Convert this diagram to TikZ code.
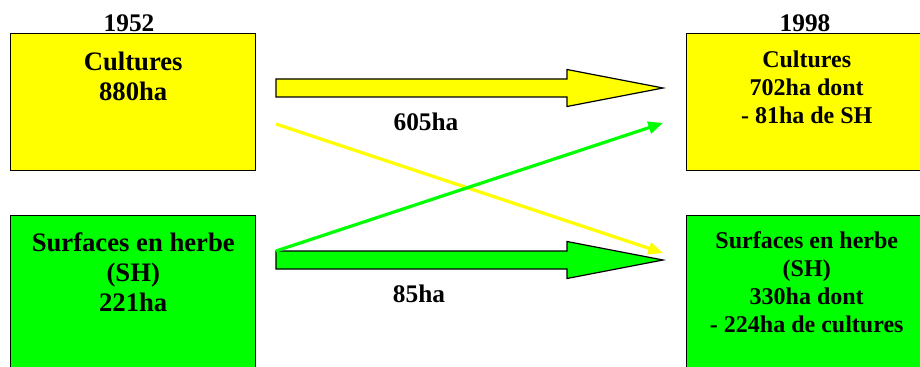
\documentclass[tikz,border=0pt]{standalone}
\usepackage{fontspec}
\setmainfont{Liberation Serif}[BoldFont={Liberation Serif Bold}]
\usetikzlibrary{arrows.meta,positioning,calc}
\definecolor{cryellow}{HTML}{FFFF00}
\definecolor{shgreen}{HTML}{00FF00}

\tikzset{
  landbox/.style={draw=black, line width=1.1pt, anchor=north west, inner sep=0pt},
  oldtxt/.style={font=\rmfamily\bfseries\fontsize{20}{22.5}\selectfont, align=center, inner sep=0pt},
  newtxt/.style={font=\rmfamily\bfseries\fontsize{18}{21}\selectfont, align=center, inner sep=0pt},
  flowtxt/.style={font=\rmfamily\bfseries\fontsize{19}{21}\selectfont, inner sep=0pt, anchor=base},
  thinflow/.style={line width=2.4pt, -{Triangle[length=11pt,width=9pt]}}
}

% fat arrow: start, tip, colour
\newcommand{\fatarrow}[3]{%
  \filldraw[fill=#3, draw=black, line width=0.9pt, line join=miter]
    ($(#1)+(0,-9)$) -- ($(#2)+(-96,-9)$) -- ($(#2)+(-96,-18.5)$) -- (#2)
    -- ($(#2)+(-96,18.5)$) -- ($(#2)+(-96,9)$) -- ($(#1)+(0,9)$) -- cycle;}

\begin{document}
\begin{tikzpicture}[x=0.75pt,y=-0.75pt]
  \useasboundingbox (0,0) rectangle (920,367);

  % =====================================================================
  % 1952 (left column)
  % =====================================================================
  \node[flowtxt] (y52) at (129,32) {1952};
  \node[landbox, fill=cryellow, minimum width=183.75pt, minimum height=102.75pt] (c52) at (10,33) {};
  \node[oldtxt, below=14pt of c52.north] (c52t) {Cultures\\880ha};

  \node[landbox, fill=shgreen, minimum width=183.75pt, minimum height=125pt] (h52) at (10,215) {};
  \node[oldtxt, below=13pt of h52.north] (h52t) {Surfaces en herbe\\(SH)\\221ha};

  % =====================================================================
  % 1998 (right column)
  % =====================================================================
  \node[flowtxt] (y98) at (805,32) {1998};
  \node[landbox, fill=cryellow, minimum width=180pt, minimum height=102.75pt] (c98) at (686,33) {};
  \node[newtxt, below=13pt of c98.north] (c98t) {Cultures\\702ha dont\\- 81ha de SH};

  \node[landbox, fill=shgreen, minimum width=180pt, minimum height=125pt] (h98) at (686,215) {};
  \node[newtxt, below=12.5pt of h98.north] (h98t) {Surfaces en herbe\\(SH)\\330ha dont\\- 224ha de cultures};

  % =====================================================================
  % Flows
  % =====================================================================
  \coordinate (cc1) at (276,88);
  \coordinate (cc2) at (663,88);
  \coordinate (hh1) at (276,260);
  \coordinate (hh2) at (663,260);
  \coordinate (ch1) at (276,124);
  \coordinate (ch2) at (663,253);
  \coordinate (hc1) at (276,251);
  \coordinate (hc2) at (663,123);

  % Kept surfaces
  \fatarrow{cc1}{cc2}{cryellow}
  \fatarrow{hh1}{hh2}{shgreen}
  \node[flowtxt] (lcc) at (426,131) {605ha};
  \node[flowtxt] (lhh) at (419,302) {85ha};

  % Exchanges
  \draw[thinflow, cryellow] (ch1) -- (ch2);
  \draw[thinflow, shgreen] (hc1) -- (hc2);

\end{tikzpicture}
\end{document}
